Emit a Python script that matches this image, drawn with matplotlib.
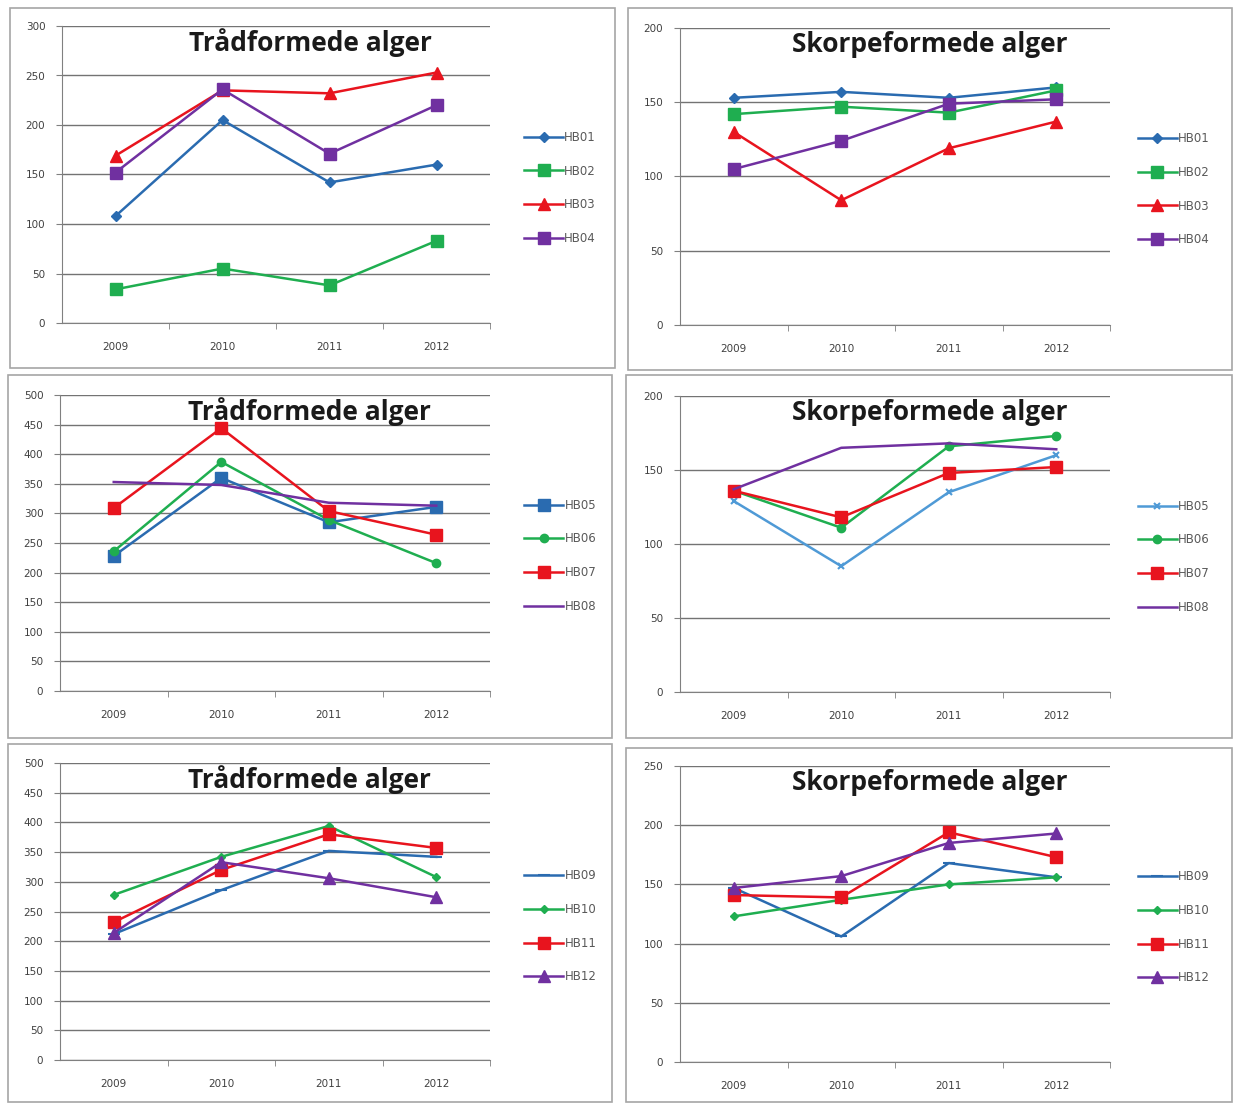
import matplotlib
matplotlib.use('Agg')
import matplotlib.pyplot as plt
from matplotlib.patches import Rectangle

years = ['2009', '2010', '2011', '2012']

# top row: HB01-HB04
trad_1 = {'HB01': [108, 205, 142, 160],
          'HB02': [34, 55, 38, 83],
          'HB03': [169, 235, 232, 253],
          'HB04': [152, 236, 171, 220]}
skorpe_1 = {'HB01': [153, 157, 153, 160],
            'HB02': [142, 147, 143, 158],
            'HB03': [130, 84, 119, 137],
            'HB04': [105, 124, 149, 152]}

# middle row: HB05-HB08
trad_2 = {'HB05': [228, 360, 285, 311],
          'HB06': [236, 387, 289, 216],
          'HB07': [309, 444, 304, 264],
          'HB08': [353, 348, 318, 313]}
skorpe_2 = {'HB05': [129, 85, 135, 160],
            'HB06': [136, 111, 166, 173],
            'HB07': [136, 118, 148, 152],
            'HB08': [137, 165, 168, 164]}

# bottom row: HB09-HB12
trad_3 = {'HB09': [212, 286, 352, 342],
          'HB10': [278, 342, 394, 308],
          'HB11': [232, 320, 380, 357],
          'HB12': [214, 333, 306, 274]}
skorpe_3 = {'HB09': [147, 106, 168, 156],
            'HB10': [123, 137, 150, 156],
            'HB11': [141, 139, 194, 173],
            'HB12': [147, 157, 185, 193]}

blue = '#2a6bb0'
lightblue = '#4f9ad6'
green = '#1fae50'
red = '#e8141e'
purple = '#7030a0'

styles_1 = [(blue, 'D', 5), (green, 's', 8), (red, '^', 8), (purple, 's', 9)]
styles_2a = [(blue, 's', 9), (green, 'o', 6), (red, 's', 9), (purple, '', 0)]
styles_2b = [(lightblue, 'x', 5), (green, 'o', 6), (red, 's', 9), (purple, '', 0)]
styles_3 = [(blue, '_', 8), (green, 'D', 4), (red, 's', 9), (purple, '^', 8)]

W, H = 1234, 1104
fig = plt.figure(figsize=(W / 100, H / 100), dpi=100)
fig.patch.set_facecolor('white')


def box(x0, y0, x1, y1):
    fig.patches.append(Rectangle((x0 / W, 1 - y1 / H), (x1 - x0) / W, (y1 - y0) / H,
                                 transform=fig.transFigure, fill=False,
                                 edgecolor='#a6a6a6', linewidth=1.2))


def panel(px, title, data, styles, ymax, leg_x, leg_y):
    x0, x1, yt, yb = px
    ax = fig.add_axes([x0 / W, 1 - yb / H, (x1 - x0) / W, (yb - yt) / H])
    xs = range(len(years))
    for (name, vals), (c, m, ms) in zip(data.items(), styles):
        ax.plot(xs, vals, color=c, marker=m if m else None, markersize=ms,
                linewidth=1.8, label=name, markeredgewidth=1.5 if m in ('x', '_') else 1)
    ax.set_xlim(-0.5, 3.5)
    ax.set_ylim(0, ymax)
    ax.set_yticks(range(0, ymax + 1, 50))
    ax.set_xticks(list(xs))
    ax.set_xticklabels(years)
    ax.set_xticks([0.5, 1.5, 2.5, 3.5], minor=True)
    ax.tick_params(axis='x', which='major', length=0, labelsize=7.5,
                   labelcolor='#404040', pad=14)
    ax.tick_params(axis='x', which='minor', length=4, color='#808080')
    ax.tick_params(axis='y', length=4, color='#808080', labelsize=7.5,
                   labelcolor='#404040', pad=8)
    ax.grid(axis='y', color='#737373', linewidth=1.0)
    ax.set_axisbelow(True)
    for s in ['top', 'right']:
        ax.spines[s].set_visible(False)
    for s in ['left', 'bottom']:
        ax.spines[s].set_color('#808080')
    ax.text(0.58, 0.945, title, transform=ax.transAxes, ha='center', va='center',
            fontsize=19, fontweight='bold', family='Open Sans', color='#1a1a1a')
    ax.legend(loc='center left', bbox_to_anchor=(leg_x, leg_y), frameon=False,
              fontsize=8.5, labelspacing=1.75, handlelength=3.3, handletextpad=0.1,
              labelcolor='#595959')
    return ax


box(10, 8, 615, 368)
box(628, 8, 1232, 370)
box(8, 375, 612, 738)
box(626, 375, 1232, 738)
box(8, 744, 612, 1102)
box(626, 748, 1232, 1102)

panel((62, 490, 26, 323), 'Trådformede alger', trad_1, styles_1, 300, 1.055, 0.455)
panel((680, 1110, 28, 325), 'Skorpeformede alger', skorpe_1, styles_1, 200, 1.04, 0.457)
panel((60, 490, 395, 691), 'Trådformede alger', trad_2, styles_2a, 500, 1.055, 0.457)
panel((680, 1110, 396, 692), 'Skorpeformede alger', skorpe_2, styles_2b, 200, 1.04, 0.457)
panel((60, 490, 763, 1060), 'Trådformede alger', trad_3, styles_3, 500, 1.055, 0.45)
panel((680, 1110, 766, 1062), 'Skorpeformede alger', skorpe_3, styles_3, 250, 1.04, 0.455)

fig.savefig('out.png', dpi=100)
